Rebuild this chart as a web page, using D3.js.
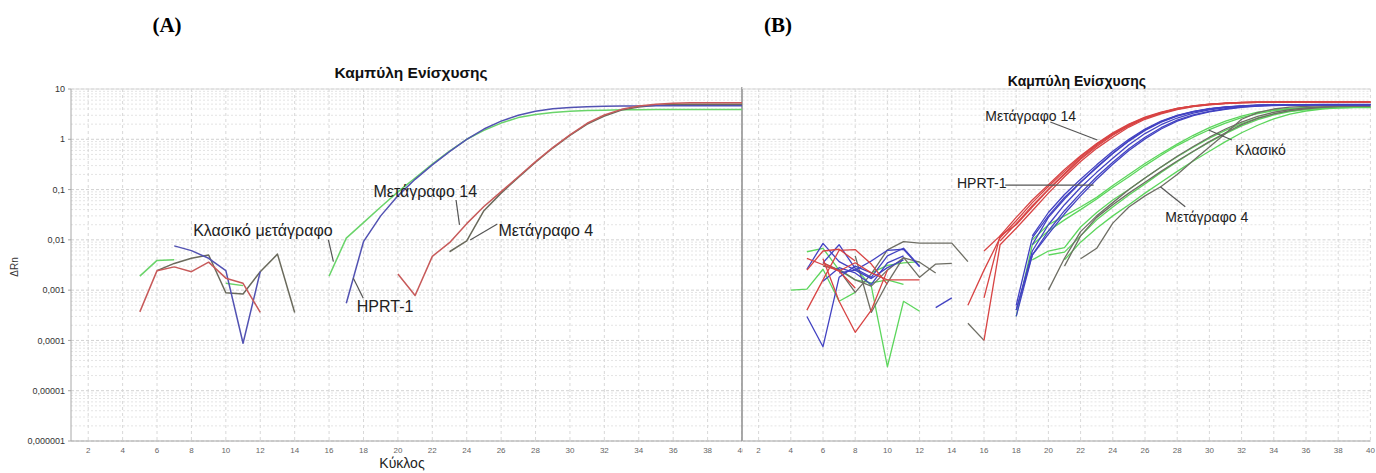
<!DOCTYPE html>
<html><head><meta charset="utf-8">
<script src="https://cdn.jsdelivr.net/npm/d3@7"></script>
<style>body{margin:0;background:#fff}svg{display:block;font-family:"Liberation Sans",Arial,sans-serif}</style>
</head><body><svg id="c" width="1376" height="473"></svg>
<script>
// ---------- shared axis data ----------
const cycleDomain = [1, 40];
const xTickValues = [2,4,6,8,10,12,14,16,18,20,22,24,26,28,30,32,34,36,38,40];
const xTickLabels = ["2","4","6","8","10","12","14","16","18","20","22","24","26","28","30","32","34","36","38","40"];
const yDomain = [1e-6, 10];
const yTickValues = [1e-6,1e-5,1e-4,1e-3,1e-2,1e-1,1,10];
const yTickLabels = ["0,000001","0,00001","0,0001","0,001","0,01","0,1","1","10"];

// ---------- panel A series (start cycle + ΔRn values) ----------
const aGreen = [
  {start:5,  v:[0.0019,0.0039,0.0040]},
  {start:10, v:[0.00137,0.00123]},
  {start:16, v:[0.0019,0.0108,0.022,0.045,0.09,0.17,0.32,0.58,1.0,1.5,2.1,2.7,3.1,3.4,3.6,3.72,3.8,3.85,3.88,3.9,3.9,3.9,3.9,3.9,3.9]}
];
const aBlue = [
  {start:7,  v:[0.0076,0.0061,0.0043,0.00244,0.000088,0.00233]},
  {start:17, v:[0.00055,0.0092,0.030,0.075,0.16,0.31,0.57,1.0,1.6,2.3,3.0,3.6,4.05,4.3,4.45,4.55,4.6,4.6,4.62,4.62,4.62,4.62,4.62,4.62]}
];
const aRed = [
  {start:5,  v:[0.00037,0.00244,0.0029,0.00233,0.0036,0.00173,0.00137,0.00036]},
  {start:20, v:[0.0021,0.00078,0.0047,0.0088,0.021,0.046,0.091,0.18,0.36,0.68,1.22,2.08,3.04,3.94,4.6,5.0,5.2,5.3,5.35,5.35,5.35]}
];
const aGrey = [
  {start:6,  v:[0.00244,0.0034,0.0043,0.0050,0.00089,0.00084,0.00233,0.0052,0.00036]},
  {start:23, v:[0.0058,0.0095,0.038,0.085,0.175,0.35,0.67,1.2,2.0,2.9,3.8,4.4,4.75,4.9,5.0,5.0,5.0,5.0]}
];

// ---------- panel B series ----------
const bGreen = [
  {start:4,  v:[0.001,0.00105,0.0026,0.0006,0.0009]},
  {start:5,  v:[0.0058,0.0068,0.0025,0.0016,0.0014,0.0016,0.0013]},
  {start:8,  v:[0.0028,0.0012,0.00003,0.0006,0.00038]},
  {start:9,  v:[0.0022,0.0031,0.0035,0.0037]},
  {start:18, v:[0.0003,0.008,0.015,0.025,0.04,0.065,0.11,0.18,0.3,0.48,0.75,1.1,1.55,2.1,2.7,3.25,3.7,4.0,4.2,4.3,4.35,4.35,4.35]},
  {start:19, v:[0.004,0.006,0.007,0.018,0.035,0.062,0.1,0.17,0.28,0.45,0.7,1.05,1.5,2.05,2.65,3.2,3.65,3.95,4.15,4.25,4.3,4.3]},
  {start:20, v:[0.005,0.0057,0.012,0.025,0.045,0.078,0.13,0.22,0.36,0.57,0.88,1.3,1.85,2.45,3.05,3.55,3.9,4.1,4.2,4.25,4.25]},
  {start:19, v:[0.01,0.02,0.03,0.045,0.07,0.12,0.2,0.33,0.52,0.8,1.2,1.7,2.3,2.9,3.45,3.85,4.1,4.25,4.3,4.35,4.35,4.35]},
  {start:21, v:[0.004,0.009,0.017,0.03,0.05,0.085,0.14,0.23,0.37,0.58,0.9,1.35,1.9,2.55,3.15,3.65,4.0,4.2,4.3,4.3]}
];
const bGrey = [
  {start:6,  v:[0.0035,0.0025,0.0009,0.0021,0.0063,0.0092,0.0086,0.0086,0.0086,0.0037]},
  {start:8,  v:[0.0048,0.00036,0.0014,0.0045,0.0018,0.0033,0.0034]},
  {start:6,  v:[0.003,0.0026,0.0016,0.0012,0.0025,0.0044,0.0036,0.0022]},
  {start:15, v:[0.00022,0.0001]},
  {start:20, v:[0.001,0.0043,0.0146,0.03,0.055,0.1,0.17,0.28,0.46,0.72,1.1,1.6,2.2,2.85,3.45,3.9,4.2,4.4,4.5,4.55,4.55]},
  {start:22, v:[0.0042,0.0068,0.0215,0.045,0.075,0.115,0.2,0.38,0.7,1.3,2.5,3.4,4.0,4.35,4.5,4.6,4.6,4.6,4.6]},
  {start:21, v:[0.003,0.012,0.028,0.05,0.085,0.14,0.23,0.37,0.58,0.9,1.35,1.95,2.6,3.2,3.7,4.05,4.3,4.45,4.5,4.5]}
];
const bBlue = [
  {start:5,  v:[0.0003,0.000075,0.0018,0.003,0.0022]},
  {start:5,  v:[0.0026,0.0085,0.0037,0.0025,0.0017,0.0028,0.004]},
  {start:6,  v:[0.0035,0.008,0.0027,0.0018,0.0048,0.0068,0.003]},
  {start:7,  v:[0.0022,0.0025,0.0038,0.0062,0.0065,0.0029]},
  {start:6,  v:[0.0015,0.0028,0.0022,0.0013,0.0035,0.0048]},
  {start:13, v:[0.00045,0.0007]},
  {start:18, v:[0.0005,0.011,0.03,0.07,0.14,0.27,0.52,0.92,1.5,2.2,2.9,3.5,4.0,4.35,4.6,4.75,4.85,4.9,4.9,4.95,4.95,4.95,4.95]},
  {start:18, v:[0.0004,0.006,0.02,0.05,0.11,0.22,0.42,0.78,1.3,1.95,2.65,3.3,3.85,4.25,4.5,4.7,4.8,4.85,4.9,4.9,4.9,4.9,4.9]},
  {start:18, v:[0.0003,0.005,0.015,0.038,0.085,0.18,0.35,0.65,1.1,1.7,2.4,3.05,3.6,4.05,4.4,4.6,4.75,4.8,4.85,4.85,4.85,4.85,4.85]},
  {start:19, v:[0.012,0.035,0.08,0.16,0.31,0.58,1.0,1.6,2.3,3.0,3.6,4.05,4.4,4.6,4.75,4.85,4.9,4.9,4.9,4.9,4.9,4.9]},
  {start:18, v:[0.0004,0.005,0.013,0.033,0.075,0.16,0.32,0.6,1.02,1.6,2.3,2.95,3.5,3.95,4.3,4.55,4.7,4.8,4.8,4.85,4.85,4.85,4.85]},
  {start:19, v:[0.008,0.028,0.065,0.14,0.28,0.53,0.95,1.55,2.25,2.95,3.55,4.0,4.35,4.55,4.7,4.8,4.85,4.85,4.85,4.85,4.85,4.85]}
];
const bRed = [
  {start:5,  v:[0.0004,0.0016,0.0062,0.0064,0.0033,0.0013]},
  {start:6,  v:[0.0042,0.0006,0.000145,0.0004,0.0025]},
  {start:5,  v:[0.0043,0.0032,0.0024,0.0011]},
  {start:6,  v:[0.0035,0.0024,0.0035,0.0022,0.0016,0.0016,0.0016]},
  {start:5,  v:[0.0025,0.006,0.0065,0.0038]},
  {start:15, v:[0.0005,0.0025,0.011,0.024,0.055,0.115,0.23,0.45,0.8,1.3,1.95,2.7,3.4,4.1,4.6,5.0,5.25,5.4,5.5,5.5,5.55,5.55,5.55,5.55,5.55,5.55]},
  {start:16, v:[0.006,0.012,0.028,0.062,0.125,0.25,0.47,0.82,1.35,2.0,2.75,3.45,4.1,4.6,5.0,5.25,5.4,5.5,5.5,5.55,5.55,5.55,5.55,5.55,5.55]},
  {start:16, v:[0.0007,0.012,0.02,0.045,0.1,0.2,0.4,0.72,1.2,1.85,2.6,3.3,4.0,4.5,4.9,5.2,5.35,5.45,5.5,5.5,5.5,5.5,5.5,5.5,5.5]},
  {start:16, v:[0.0001,0.008,0.017,0.038,0.085,0.18,0.36,0.66,1.1,1.75,2.5,3.2,3.9,4.45,4.85,5.15,5.3,5.4,5.45,5.45,5.45,5.45,5.45,5.45,5.45]},
  {start:17, v:[0.0095,0.021,0.048,0.1,0.21,0.42,0.76,1.25,1.9,2.65,3.35,4.05,4.55,4.95,5.2,5.35,5.45,5.5,5.5,5.5,5.5,5.5,5.5,5.5]}
];

// ---------- annotations (text, text anchor [cycle,value], leader from/to [cycle,value]) ----------
const aNotes = [
  {t:"Κλασικό μετάγραφο", at:[8.1,0.0157],  l:[[15.96,0.00995],[16.25,0.0037]]},
  {t:"HPRT-1",            at:[17.61,0.000485], l:[[17.41,0.00173],[17.99,0.00069]]},
  {t:"Μετάγραφο 14",      at:[18.58,0.0938], l:[[23.38,0.062],[23.58,0.0198]]},
  {t:"Μετάγραφο 4",       at:[25.84,0.0157], l:[[25.78,0.0207],[24.2,0.00995]]}
];
const bNotes = [
  {t:"Μετάγραφο 14", at:[16.08,2.9],   l:[[20.12,2.21],[23.04,0.97]]},
  {t:"HPRT-1",       at:[14.32,0.133], l:[[17.32,0.123],[22.81,0.123]]},
  {t:"Κλασικό",      at:[31.61,0.612], l:[[31.4,0.968],[29.95,1.53]]},
  {t:"Μετάγραφο 4",  at:[27.26,0.0281],l:[[28.5,0.0457],[26.95,0.114]]}
];

const svg = d3.select("#c");

function drawPanel(cfg){
  const g = svg.append("g");
  if (cfg.bg) g.append("rect").attr("x",cfg.x0).attr("y",cfg.bgTop).attr("width",1376-cfg.x0).attr("height",473-cfg.bgTop).attr("fill","#fff");
  const x = d3.scaleLinear().domain(cycleDomain).range([cfg.x0,cfg.x1]);
  const y = d3.scaleLog().domain(yDomain).range([cfg.y1,cfg.y0]);
  const minors = [];
  yTickValues.slice(0,-1).forEach(d=>{ for(let k=2;k<=9;k++) minors.push(d*k); });
  g.selectAll(null).data(minors).enter().append("line")
    .attr("x1",cfg.x0).attr("x2",cfg.x1).attr("y1",d=>y(d)).attr("y2",d=>y(d))
    .attr("stroke","#e4e4e4").attr("stroke-dasharray","2,2").attr("stroke-width",1);
  g.selectAll(null).data(yTickValues).enter().append("line")
    .attr("x1",cfg.x0).attr("x2",cfg.x1).attr("y1",d=>y(d)).attr("y2",d=>y(d))
    .attr("stroke","#d2d2d2").attr("stroke-dasharray","3,2").attr("stroke-width",1);
  g.selectAll(null).data(xTickValues).enter().append("line")
    .attr("x1",d=>x(d)).attr("x2",d=>x(d)).attr("y1",cfg.y0).attr("y2",cfg.y1)
    .attr("stroke","#d8d8d8").attr("stroke-dasharray","3,3").attr("stroke-width",1);
  g.append("line").attr("x1",cfg.x0).attr("x2",cfg.x1).attr("y1",cfg.y0).attr("y2",cfg.y0).attr("stroke","#dcdcdc");
  g.append("line").attr("x1",cfg.x0).attr("x2",cfg.x0).attr("y1",cfg.y0).attr("y2",cfg.y1).attr("stroke","#a8a8a8");
  g.append("line").attr("x1",cfg.x0).attr("x2",cfg.x1).attr("y1",cfg.y1).attr("y2",cfg.y1).attr("stroke","#a8a8a8");
  if (cfg.rightBorder) g.append("line").attr("x1",cfg.x1).attr("x2",cfg.x1).attr("y1",cfg.y0-2).attr("y2",cfg.y1).attr("stroke","#8c8c8c").attr("stroke-width",1.5);
  if (cfg.yLabels){
    g.selectAll(null).data(yTickValues).enter().append("line")
      .attr("x1",cfg.x0-3).attr("x2",cfg.x0).attr("y1",d=>y(d)).attr("y2",d=>y(d)).attr("stroke","#a8a8a8");
    g.selectAll(null).data(yTickValues).enter().append("text")
      .attr("x",cfg.x0-6).attr("y",d=>y(d)).attr("dy","0.35em").attr("text-anchor","end")
      .attr("font-size",9).attr("fill","#333").text((d,i)=>yTickLabels[i]);
  }
  g.selectAll(null).data(xTickValues).enter().append("text")
    .attr("x",d=>x(d)).attr("y",cfg.y1+12).attr("text-anchor","middle")
    .attr("font-size",8).attr("fill","#666").text((d,i)=>xTickLabels[i]);
  const line = d3.line().x(d=>x(d[0])).y(d=>y(d[1]));
  cfg.groups.forEach(gr=>{
    gr.data.forEach(s=>{
      const pts = s.v.map((val,i)=>[s.start+i,val]);
      g.append("path").attr("d",line(pts)).attr("fill","none")
        .attr("stroke",gr.color).attr("stroke-width",cfg.lw).attr("stroke-linejoin","round");
    });
  });
  cfg.notes.forEach(n=>{
    g.append("line").attr("x1",x(n.l[0][0])).attr("y1",y(n.l[0][1]))
      .attr("x2",x(n.l[1][0])).attr("y2",y(n.l[1][1]))
      .attr("stroke","#555").attr("stroke-width",1.2);
    g.append("text").attr("x",x(n.at[0])).attr("y",y(n.at[1])).attr("dy","0.35em")
      .attr("font-size",cfg.noteSize).attr("fill","#222").text(n.t);
  });
  g.append("text").attr("x",cfg.titleX).attr("y",cfg.titleY).attr("text-anchor","middle")
    .attr("font-size",cfg.titleSize).attr("font-weight","bold").attr("fill","#111").text("Καμπύλη Ενίσχυσης");
  return g;
}

drawPanel({x0:71,x1:742,y0:89,y1:441,yLabels:true,rightBorder:true,lw:1.5,noteSize:16,
  titleX:411,titleY:78,titleSize:15.5,notes:aNotes,
  groups:[{data:aGreen,color:"#6ad46a"},{data:aGrey,color:"#6a6a5c"},{data:aBlue,color:"#5252b2"},{data:aRed,color:"#c75a5a"}]});

drawPanel({x0:742.5,x1:1370.4,y0:89,y1:441,bg:true,bgTop:40,yLabels:false,rightBorder:false,lw:1.3,noteSize:14,
  titleX:1077,titleY:86,titleSize:14,notes:bNotes,
  groups:[{data:bGreen,color:"#5cd65c"},{data:bGrey,color:"#6e6e64"},{data:bBlue,color:"#4242c2"},{data:bRed,color:"#d84444"}]});

svg.append("text").attr("transform","translate(18,267) rotate(-90)").attr("text-anchor","middle")
  .attr("font-size",10).attr("fill","#333").text("ΔRn");
svg.append("text").attr("x",402).attr("y",468).attr("text-anchor","middle")
  .attr("font-size",14).attr("fill","#222").text("Κύκλος");
svg.append("text").attr("x",167).attr("y",32).attr("text-anchor","middle")
  .attr("font-family","'Liberation Serif','Times New Roman',serif").attr("font-weight","bold").attr("font-size",21).text("(A)");
svg.append("text").attr("x",778).attr("y",32).attr("text-anchor","middle")
  .attr("font-family","'Liberation Serif','Times New Roman',serif").attr("font-weight","bold").attr("font-size",21).text("(B)");
</script></body></html>
